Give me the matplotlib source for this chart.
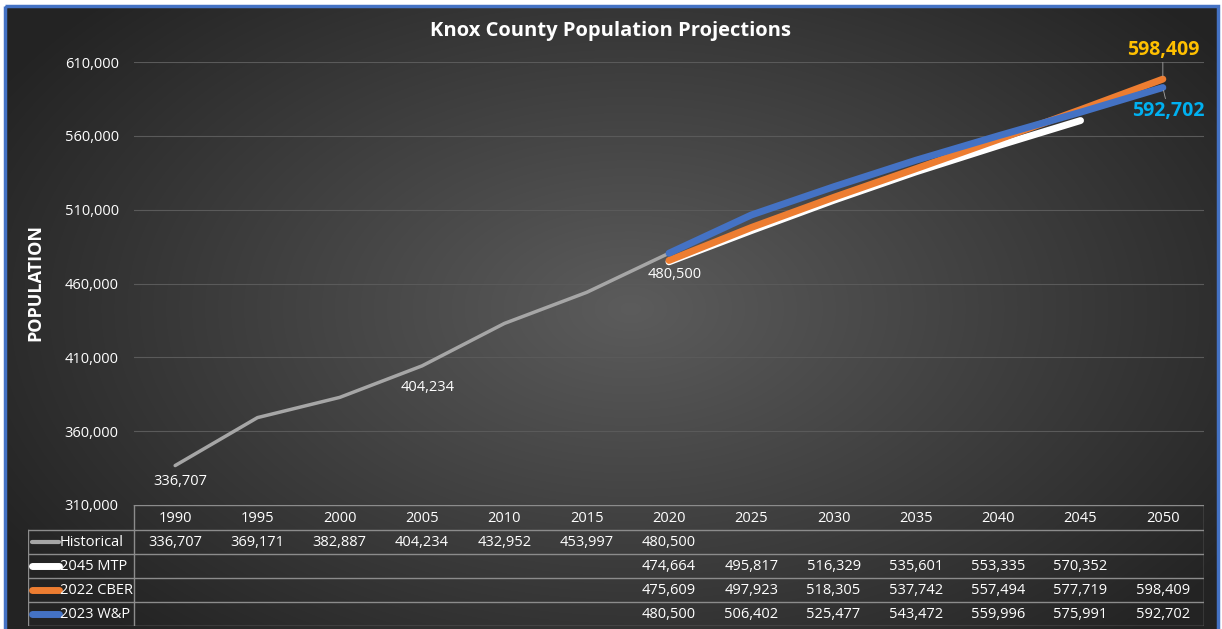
import numpy as np
import matplotlib.pyplot as plt
from matplotlib.patches import Rectangle

plt.rcParams['font.family'] = ['Open Sans', 'DejaVu Sans']

years = ['1990', '1995', '2000', '2005', '2010', '2015', '2020',
         '2025', '2030', '2035', '2040', '2045', '2050']
historical = [336707, 369171, 382887, 404234, 432952, 453997, 480500,
              None, None, None, None, None, None]
mtp_2045 = [None] * 6 + [474664, 495817, 516329, 535601, 553335, 570352, None]
cber_2022 = [None] * 6 + [475609, 497923, 518305, 537742, 557494, 577719, 598409]
wp_2023 = [None] * 6 + [480500, 506402, 525477, 543472, 559996, 575991, 592702]

series_names = ['Historical', '2045 MTP', '2022 CBER', '2023 W&P']
series_vals = [historical, mtp_2045, cber_2022, wp_2023]
series_colors = ['#a6a6a6', '#ffffff', '#ed7d31', '#4472c4']
series_lw = [2.5, 5, 5, 5]

W, H = 1222, 629
fig = plt.figure(figsize=(W / 100, H / 100), dpi=100, facecolor='white')

# background with radial gradient and blue border
bg = fig.add_axes([0, 0, 1, 1], zorder=0)
bg.axis('off')
yy, xx = np.mgrid[0:H, 0:W]
r = np.sqrt(((xx - 630) / 700.0) ** 2 + ((yy - 300) / 420.0) ** 2)
shade = np.clip(0.36 - 0.21 * r, 0.14, 0.36)
img = np.dstack([shade, shade, shade])
bg.imshow(img, extent=(5, 1218, 640, 6), aspect='auto', interpolation='bilinear')
bg.add_patch(Rectangle((5, 6), 1213, 640, fill=False, edgecolor='#4472c4', lw=2.5))
bg.set_xlim(0, W)
bg.set_ylim(H, 0)

x0, x1, ytop, ybot = 134, 1204, 62, 505
ax = fig.add_axes([x0 / W, 1 - ybot / H, (x1 - x0) / W, (ybot - ytop) / H], zorder=2)
ax.patch.set_alpha(0)
x = np.arange(len(years))
ax.set_xlim(-0.5, len(years) - 0.5)
ax.set_ylim(310000, 610000)
ax.set_yticks(np.arange(310000, 610001, 50000))
ax.yaxis.set_major_formatter(plt.FuncFormatter(lambda v, p: f'{int(v):,}'))
ax.tick_params(axis='y', colors='white', labelsize=10.5, length=0, pad=11)
ax.set_xticks([])
ax.grid(axis='y', color='#5a5a5a', lw=0.8)
for s in ax.spines.values():
    s.set_visible(False)

for name, vals, c, lw in zip(series_names, series_vals, series_colors, series_lw):
    xs = [i for i, v in enumerate(vals) if v is not None]
    ys = [v for v in vals if v is not None]
    ax.plot(xs, ys, color=c, lw=lw, solid_capstyle='round', zorder=3)

for i, dy in [(0, -6), (3, -10), (6, -10)]:
    ax.annotate(f'{historical[i]:,}', (x[i], historical[i]), xytext=(4, dy),
                textcoords='offset points', ha='center', va='top', color='white', fontsize=10.5)

ax.annotate(f'{cber_2022[-1]:,}', (x[-1], cber_2022[-1]), xytext=(0, 14),
            textcoords='offset points', ha='center', va='bottom', color='#ffc000',
            fontsize=14, fontweight='bold',
            arrowprops=dict(arrowstyle='-', color='#a6a6a6', lw=0.6, shrinkA=0, shrinkB=2))
ax.annotate(f'{wp_2023[-1]:,}', (x[-1], wp_2023[-1]), xytext=(4, -10),
            textcoords='offset points', ha='center', va='top', color='#00b0f0',
            fontsize=14, fontweight='bold',
            arrowprops=dict(arrowstyle='-', color='#a6a6a6', lw=0.6, shrinkA=0, shrinkB=2))

fig.text(611 / W, 1 - 31 / H, 'Knox County Population Projections', ha='center', va='center',
         color='white', fontsize=14.5, fontweight='bold')
fig.text(35 / W, 1 - 283 / H, 'POPULATION', ha='center', va='center', rotation=90,
         color='white', fontsize=13, fontweight='bold')

# data table
colw = (x1 - x0) / len(years)
tleft = -0.5 - (x0 - 28) / colw
tb = fig.add_axes([28 / W, 1 - 626 / H, (x1 - 28) / W, (626 - ybot) / H], zorder=2)
tb.patch.set_alpha(0)
tb.axis('off')
tb.set_xlim(tleft, len(years) - 0.5)
row_edges = [505, 530, 554, 578, 602, 626]
tb.set_ylim(626, 505)
lc = '#8c8c8c'
tb.plot([-0.5, len(years) - 0.5], [505, 505], color=lc, lw=1)
for yv in row_edges[1:]:
    tb.plot([tleft, len(years) - 0.5], [yv, yv], color=lc, lw=1)
tb.plot([-0.5, -0.5], [505, 626], color=lc, lw=1)
tb.plot([len(years) - 0.5] * 2, [505, 626], color=lc, lw=1)
tb.plot([tleft, tleft], [530, 626], color=lc, lw=1)
for i, yr in enumerate(years):
    tb.text(i, (row_edges[0] + row_edges[1]) / 2 + 1, yr, ha='center', va='center',
            color='white', fontsize=10.5)
for r_i, (name, vals, c) in enumerate(zip(series_names, series_vals, series_colors)):
    yc = (row_edges[r_i + 1] + row_edges[r_i + 2]) / 2
    kx0 = tleft + 4 / colw
    kx1 = tleft + 31 / colw
    tb.plot([kx0, kx1], [yc, yc], color=c, lw=3 if r_i == 0 else 5, solid_capstyle='round')
    tb.text(kx1 + 1 / colw, yc, name, ha='left', va='center', color='white', fontsize=10.5)
    for i, v in enumerate(vals):
        if v is not None:
            tb.text(i, yc, f'{v:,}', ha='center', va='center', color='white', fontsize=10.5)

fig.savefig('out.png', dpi=100, facecolor='white')
